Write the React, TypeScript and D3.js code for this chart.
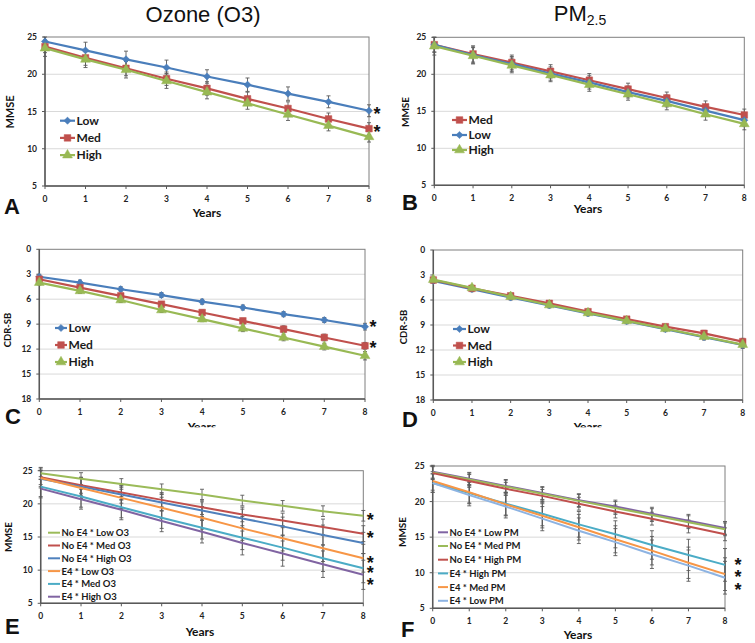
import React from 'react';
import * as d3 from 'd3';

// ---------- shared ----------
const years = [0, 1, 2, 3, 4, 5, 6, 7, 8];
const mmseTicks = [5, 10, 15, 20, 25];
const cdrTicks = [0, 3, 6, 9, 12, 15, 18];

// ---------- Panel A : Ozone, MMSE ----------
const aNames = ['Low', 'Med', 'High'];
const aLow = [24.4, 23.2, 22.0, 20.9, 19.7, 18.6, 17.4, 16.3, 15.1];
const aMed = [23.7, 22.2, 20.8, 19.4, 18.1, 16.7, 15.4, 14.0, 12.7];
const aHigh = [23.5, 22.0, 20.6, 19.1, 17.6, 16.1, 14.6, 13.1, 11.6];
const aLowErr = [0.6, 1.1, 1.1, 1.0, 0.9, 0.9, 0.9, 0.8, 0.8];
const aMedErr = [0.8, 1.0, 1.0, 0.9, 0.9, 0.9, 0.9, 0.8, 0.8];
const aHighErr = [1.1, 1.1, 1.1, 1.0, 0.9, 0.8, 0.8, 0.7, 0.7];
const aStars = [15.1, 12.7];

// ---------- Panel B : PM2.5, MMSE ----------
const bNames = ['Med', 'Low', 'High'];
const bMed = [24.0, 22.75, 21.6, 20.4, 19.2, 18.0, 16.8, 15.6, 14.5];
const bLow = [24.0, 22.6, 21.4, 20.1, 18.9, 17.6, 16.4, 15.1, 13.8];
const bHigh = [23.8, 22.5, 21.2, 19.9, 18.6, 17.3, 16.0, 14.6, 13.3];
const bMedErr = [1.0, 1.1, 1.0, 0.9, 0.9, 0.8, 0.8, 0.8, 0.8];
const bLowErr = [1.0, 1.1, 1.0, 0.9, 0.9, 0.8, 0.8, 0.8, 0.8];
const bHighErr = [1.2, 1.1, 1.0, 0.9, 0.9, 0.8, 0.8, 0.8, 0.8];

// ---------- Panel C : Ozone, CDR-SB ----------
const cNames = ['Low', 'Med', 'High'];
const cLow = [3.3, 4.0, 4.8, 5.5, 6.3, 7.0, 7.8, 8.5, 9.3];
const cMed = [3.6, 4.6, 5.6, 6.6, 7.6, 8.6, 9.6, 10.6, 11.6];
const cHigh = [4.0, 5.0, 6.1, 7.3, 8.4, 9.5, 10.6, 11.7, 12.8];
const cLowErr = [0.3, 0.3, 0.3, 0.3, 0.3, 0.3, 0.3, 0.3, 0.4];
const cMedErr = [0.3, 0.3, 0.3, 0.3, 0.3, 0.3, 0.4, 0.4, 0.4];
const cHighErr = [0.3, 0.3, 0.3, 0.3, 0.3, 0.4, 0.4, 0.4, 0.5];
const cStars = [8.8, 11.3];

// ---------- Panel D : PM2.5, CDR-SB ----------
const dNames = ['Low', 'Med', 'High'];
const dLow = [3.7, 4.7, 5.7, 6.65, 7.6, 8.55, 9.5, 10.45, 11.4];
const dMed = [3.6, 4.6, 5.5, 6.4, 7.4, 8.3, 9.2, 10.0, 11.0];
const dHigh = [3.55, 4.55, 5.6, 6.6, 7.55, 8.5, 9.45, 10.4, 11.35];
const dErr = [0.3, 0.3, 0.3, 0.3, 0.3, 0.3, 0.3, 0.35, 0.4];

// ---------- Panel E : APOE4 x Ozone, MMSE ----------
const eNames = ['No E4 * Low O3', 'No E4 * Med O3', 'No E4 * High O3', 'E4 * Low O3', 'E4 * Med O3', 'E4 * High O3'];
const eNoLow = [24.6, 23.8, 23.0, 22.2, 21.4, 20.5, 19.7, 18.9, 18.2];
const eNoMed = [24.0, 22.8, 21.7, 20.6, 19.5, 18.4, 17.5, 16.5, 15.5];
const eNoHigh = [23.8, 22.6, 21.4, 20.2, 19.0, 17.8, 16.6, 15.3, 14.1];
const eE4Low = [23.9, 22.4, 20.9, 19.4, 17.9, 16.3, 14.8, 13.3, 11.8];
const eE4Med = [22.6, 21.1, 19.5, 17.9, 16.4, 14.9, 13.4, 11.8, 10.3];
const eE4High = [22.3, 20.7, 19.1, 17.4, 15.8, 14.1, 12.5, 10.9, 9.3];
const eNoLowErr = [0.9, 0.9, 0.8, 0.8, 0.8, 0.8, 0.8, 0.8, 0.8];
const eNoMedErr = [1.1, 1.2, 1.1, 1.1, 1.1, 1.1, 1.1, 1.2, 1.2];
const eNoHighErr = [1.2, 1.3, 1.3, 1.3, 1.3, 1.4, 1.4, 1.5, 1.6];
const eE4LowErr = [1.5, 1.6, 1.6, 1.6, 1.7, 1.8, 1.9, 2.0, 2.1];
const eE4MedErr = [1.5, 1.6, 1.6, 1.6, 1.7, 1.8, 1.9, 2.0, 2.2];
const eE4HighErr = [1.4, 1.5, 1.5, 1.6, 1.7, 1.8, 1.9, 2.0, 2.2];
const eStars = [18.2, 15.5, 11.8, 10.3, 8.4];

// ---------- Panel F : APOE4 x PM2.5, MMSE ----------
const fNames = ['No E4 * Low PM', 'No E4 * Med PM', 'No E4 * High PM', 'E4 * High PM', 'E4 * Med PM', 'E4 * Low PM'];
const fNoLow = [24.2, 23.2, 22.2, 21.2, 20.2, 19.3, 18.3, 17.3, 16.3];
const fNoMed = [24.1, 23.1, 22.1, 21.1, 20.1, 19.1, 18.1, 17.1, 16.1];
const fNoHigh = [24.0, 22.9, 21.8, 20.8, 19.7, 18.6, 17.6, 16.5, 15.4];
const fE4High = [22.6, 21.2, 19.7, 18.3, 16.8, 15.4, 13.9, 12.5, 11.1];
const fE4Med = [22.9, 21.3, 19.6, 18.0, 16.4, 14.7, 13.1, 11.4, 9.8];
const fE4Low = [22.6, 20.9, 19.3, 17.6, 15.9, 14.3, 12.6, 11.0, 9.3];
const fNoErr = [0.9, 0.9, 0.9, 0.9, 0.9, 0.9, 0.9, 0.9, 0.9];
const fE4Err = [1.3, 1.5, 1.6, 1.7, 1.8, 1.9, 2.0, 2.2, 2.3];
const fStars = [11.66, 9.97, 8.15];

// ---------- styling ----------
const C_BLUE = '#4a7ebb';
const C_RED = '#c0504d';
const C_GREEN = '#98b954';
const X_BLUE = '#4f81bd';
const X_ORANGE = '#f79646';
const X_TEAL = '#4bacc6';
const X_PURPLE = '#8064a2';
const X_LBLUE = '#8db3e2';
const X_GREEN = '#9bbb59';
const AXIS = '#595959';
const GRID = '#d9d9d9';
const ERR = '#5a5a5a';
const FONT = 'Lato, "Open Sans", sans-serif';
const ARIAL = '"Liberation Sans", Arial, sans-serif';
const STAR_FS = 18;

type Marker = 'diamond' | 'square' | 'triangle' | 'none';
type Series = { name: string; color: string; values: number[]; errors: number[]; marker: Marker };

type PanelCfg = {
  id: string;
  left: number; right: number; top: number; bottom: number;
  domain: [number, number];
  ticks: number[];
  reversed: boolean;
  series: Series[];
  lineWidth: number;
  legend: { x: number; y: number; dy: number; len: number; fs: number };
  stars: number[];
  starDx: number;
  starDy: number;
  letter: { t: string; x: number; y: number };
  yTitle: { t: string; x: number; y: number; fs: number };
  xTitle: { x: number; y: number; clip?: number };
};

const sym = (m: Marker) => {
  if (m === 'diamond') return d3.symbol().type(d3.symbolSquare).size(26)();
  if (m === 'square') return d3.symbol().type(d3.symbolSquare).size(44)();
  if (m === 'triangle') return d3.symbol().type(d3.symbolTriangle).size(42)();
  return '';
};

const MarkerShape = ({ m, x, y, color }: { m: Marker; x: number; y: number; color: string }) => {
  if (m === 'none') return null;
  const rot = m === 'diamond' ? ' rotate(45)' : '';
  return <path d={sym(m) || ''} transform={`translate(${x},${y})${rot}`} fill={color} stroke={color} strokeWidth={0.5} />;
};

const Panel = ({ cfg }: { cfg: PanelCfg }) => {
  const x = d3.scaleLinear().domain([0, 8]).range([cfg.left, cfg.right]);
  const y = d3.scaleLinear().domain(cfg.domain).range(cfg.reversed ? [cfg.top, cfg.bottom] : [cfg.bottom, cfg.top]);
  const line = d3.line<number>().x((_, i) => x(years[i])).y((v) => y(v));
  const gridTicks = cfg.ticks.filter((t) => Math.abs(y(t) - cfg.bottom) > 1 && Math.abs(y(t) - cfg.top) > 1);
  const clipId = `clip-${cfg.id}`;
  return (
    <g>
      {gridTicks.map((t) => (
        <line key={t} x1={cfg.left} x2={cfg.right} y1={y(t)} y2={y(t)} stroke={GRID} strokeWidth={1} />
      ))}
      <rect x={cfg.left} y={cfg.top} width={cfg.right - cfg.left} height={cfg.bottom - cfg.top} fill="none" stroke="#7f7f7f" strokeWidth={1} />
      <line x1={cfg.left} x2={cfg.left} y1={cfg.top} y2={cfg.bottom} stroke={AXIS} strokeWidth={1.5} />
      <line x1={cfg.left} x2={cfg.right} y1={cfg.bottom} y2={cfg.bottom} stroke={AXIS} strokeWidth={1.5} />
      {cfg.ticks.map((t) => (
        <g key={t}>
          <line x1={cfg.left - 3} x2={cfg.left} y1={y(t)} y2={y(t)} stroke={AXIS} />
          <text x={cfg.left - 8} y={y(t) + 3} textAnchor="end" fontFamily={FONT} fontWeight="bold" fontSize={8.5} fill="#222">{t}</text>
        </g>
      ))}
      {years.map((yr) => (
        <g key={yr}>
          <line x1={x(yr)} x2={x(yr)} y1={cfg.bottom} y2={cfg.bottom + 3} stroke={AXIS} />
          <text x={x(yr)} y={cfg.bottom + 16} textAnchor="middle" fontFamily={FONT} fontWeight="bold" fontSize={8.5} fill="#222">{yr}</text>
        </g>
      ))}
      {cfg.series.map((s) => (
        <g key={s.name + 'err'}>
          {s.values.map((v, i) => (
            <g key={i} stroke={ERR} strokeWidth={0.9}>
              <line x1={x(years[i])} x2={x(years[i])} y1={y(v - s.errors[i])} y2={y(v + s.errors[i])} />
              <line x1={x(years[i]) - 2} x2={x(years[i]) + 2} y1={y(v - s.errors[i])} y2={y(v - s.errors[i])} />
              <line x1={x(years[i]) - 2} x2={x(years[i]) + 2} y1={y(v + s.errors[i])} y2={y(v + s.errors[i])} />
            </g>
          ))}
        </g>
      ))}
      {cfg.series.map((s) => (
        <g key={s.name}>
          <path d={line(s.values) || ''} fill="none" stroke={s.color} strokeWidth={cfg.lineWidth} />
          {s.values.map((v, i) => (
            <MarkerShape key={i} m={s.marker} x={x(years[i])} y={y(v)} color={s.color} />
          ))}
        </g>
      ))}
      {cfg.series.map((s, i) => {
        const ly = cfg.legend.y + i * cfg.legend.dy;
        const lx = cfg.legend.x;
        return (
          <g key={s.name + 'leg'}>
            <line x1={lx} x2={lx + cfg.legend.len} y1={ly} y2={ly} stroke={s.color} strokeWidth={cfg.lineWidth} />
            <MarkerShape m={s.marker} x={lx + cfg.legend.len / 2} y={ly} color={s.color} />
            <text x={lx + cfg.legend.len + 1.5} y={ly + cfg.legend.fs * 0.36} fontFamily={FONT} fontWeight="bold" fontSize={cfg.legend.fs} fill="#1a1a1a">{s.name}</text>
          </g>
        );
      })}
      {cfg.stars.length > 0 && (
        <text textAnchor="middle" fontFamily={ARIAL} fontWeight="bold" fontSize={STAR_FS} fill="#111">
          {cfg.stars.map((v, i) => (
            <tspan key={i} x={cfg.right + cfg.starDx} y={y(v) + cfg.starDy + STAR_FS * 0.58}>*</tspan>
          ))}
        </text>
      )}
      <text transform={`translate(${cfg.yTitle.x},${cfg.yTitle.y}) rotate(-90)`} textAnchor="middle" fontFamily={FONT} fontWeight="bold" fontSize={cfg.yTitle.fs} fill="#111">{cfg.yTitle.t}</text>
      {cfg.xTitle.clip !== undefined && (
        <defs>
          <clipPath id={clipId}>
            <rect x={cfg.xTitle.x - 40} y={cfg.xTitle.y - 20} width={80} height={cfg.xTitle.clip - (cfg.xTitle.y - 20)} />
          </clipPath>
        </defs>
      )}
      <text x={cfg.xTitle.x} y={cfg.xTitle.y} textAnchor="middle" fontFamily={FONT} fontWeight="bold" fontSize={12} fill="#111" clipPath={cfg.xTitle.clip !== undefined ? `url(#${clipId})` : undefined}>Years</text>
      <text x={cfg.letter.x} y={cfg.letter.y} fontFamily={ARIAL} fontWeight="bold" fontSize={22} fill="#111">{cfg.letter.t}</text>
    </g>
  );
};

const panels: PanelCfg[] = [
  {
    id: 'A', left: 45, right: 369, top: 37, bottom: 186, domain: [5, 25], ticks: mmseTicks, reversed: false,
    series: [
      { name: aNames[0], color: C_BLUE, values: aLow, errors: aLowErr, marker: 'diamond' },
      { name: aNames[1], color: C_RED, values: aMed, errors: aMedErr, marker: 'square' },
      { name: aNames[2], color: C_GREEN, values: aHigh, errors: aHighErr, marker: 'triangle' },
    ],
    lineWidth: 2.2,
    legend: { x: 60, y: 120.7, dy: 17.2, len: 15, fs: 12 },
    stars: aStars, starDx: 8, starDy: -1,
    letter: { t: 'A', x: 4, y: 214 },
    yTitle: { t: 'MMSE', x: 14, y: 112, fs: 11 },
    xTitle: { x: 207, y: 217 },
  },
  {
    id: 'B', left: 434.3, right: 744.3, top: 37.3, bottom: 185.3, domain: [5, 25], ticks: mmseTicks, reversed: false,
    series: [
      { name: bNames[0], color: C_RED, values: bMed, errors: bMedErr, marker: 'square' },
      { name: bNames[1], color: C_BLUE, values: bLow, errors: bLowErr, marker: 'diamond' },
      { name: bNames[2], color: C_GREEN, values: bHigh, errors: bHighErr, marker: 'triangle' },
    ],
    lineWidth: 2.2,
    legend: { x: 452, y: 120, dy: 15, len: 15, fs: 12 },
    stars: [], starDx: 8, starDy: 0,
    letter: { t: 'B', x: 402, y: 210 },
    yTitle: { t: 'MMSE', x: 409, y: 112, fs: 10 },
    xTitle: { x: 588, y: 213 },
  },
  {
    id: 'C', left: 39.3, right: 365, top: 249.3, bottom: 399, domain: [0, 18], ticks: cdrTicks, reversed: true,
    series: [
      { name: cNames[0], color: C_BLUE, values: cLow, errors: cLowErr, marker: 'diamond' },
      { name: cNames[1], color: C_RED, values: cMed, errors: cMedErr, marker: 'square' },
      { name: cNames[2], color: C_GREEN, values: cHigh, errors: cHighErr, marker: 'triangle' },
    ],
    lineWidth: 2.2,
    legend: { x: 55, y: 328, dy: 17, len: 12, fs: 12 },
    stars: cStars, starDx: 8, starDy: 0,
    letter: { t: 'C', x: 5, y: 424 },
    yTitle: { t: 'CDR-SB', x: 11, y: 330, fs: 9.5 },
    xTitle: { x: 202, y: 430.5, clip: 427.3 },
  },
  {
    id: 'D', left: 433.3, right: 742.7, top: 250, bottom: 400, domain: [0, 18], ticks: cdrTicks, reversed: true,
    series: [
      { name: dNames[0], color: C_BLUE, values: dLow, errors: dErr, marker: 'diamond' },
      { name: dNames[1], color: C_RED, values: dMed, errors: dErr, marker: 'square' },
      { name: dNames[2], color: C_GREEN, values: dHigh, errors: dErr, marker: 'triangle' },
    ],
    lineWidth: 2.2,
    legend: { x: 453, y: 329, dy: 16.5, len: 13, fs: 12 },
    stars: [], starDx: 8, starDy: 0,
    letter: { t: 'D', x: 402, y: 427 },
    yTitle: { t: 'CDR-SB', x: 407, y: 327, fs: 9.5 },
    xTitle: { x: 588, y: 430.5, clip: 427.3 },
  },
  {
    id: 'E', left: 40.7, right: 363.3, top: 470.7, bottom: 603.3, domain: [5, 25], ticks: mmseTicks, reversed: false,
    series: [
      { name: eNames[0], color: X_GREEN, values: eNoLow, errors: eNoLowErr, marker: 'none' },
      { name: eNames[1], color: C_RED, values: eNoMed, errors: eNoMedErr, marker: 'none' },
      { name: eNames[2], color: X_BLUE, values: eNoHigh, errors: eNoHighErr, marker: 'none' },
      { name: eNames[3], color: X_ORANGE, values: eE4Low, errors: eE4LowErr, marker: 'none' },
      { name: eNames[4], color: X_TEAL, values: eE4Med, errors: eE4MedErr, marker: 'none' },
      { name: eNames[5], color: X_PURPLE, values: eE4High, errors: eE4HighErr, marker: 'none' },
    ],
    lineWidth: 2,
    legend: { x: 48, y: 532.7, dy: 12.8, len: 12, fs: 9.5 },
    stars: eStars, starDx: 7, starDy: 0,
    letter: { t: 'E', x: 5, y: 634 },
    yTitle: { t: 'MMSE', x: 12, y: 537, fs: 10 },
    xTitle: { x: 200, y: 636 },
  },
  {
    id: 'F', left: 432.7, right: 725, top: 466, bottom: 608.3, domain: [5, 25], ticks: mmseTicks, reversed: false,
    series: [
      { name: fNames[0], color: X_PURPLE, values: fNoLow, errors: fNoErr, marker: 'none' },
      { name: fNames[1], color: X_GREEN, values: fNoMed, errors: fNoErr, marker: 'none' },
      { name: fNames[2], color: C_RED, values: fNoHigh, errors: fNoErr, marker: 'none' },
      { name: fNames[3], color: X_TEAL, values: fE4High, errors: fE4Err, marker: 'none' },
      { name: fNames[4], color: X_ORANGE, values: fE4Med, errors: fE4Err, marker: 'none' },
      { name: fNames[5], color: X_LBLUE, values: fE4Low, errors: fE4Err, marker: 'none' },
    ],
    lineWidth: 2,
    legend: { x: 438, y: 532.3, dy: 13.7, len: 10, fs: 9.5 },
    stars: fStars, starDx: 13, starDy: 0,
    letter: { t: 'F', x: 401, y: 637 },
    yTitle: { t: 'MMSE', x: 406, y: 532, fs: 10 },
    xTitle: { x: 578, y: 639 },
  },
];

export default function App() {
  return (
    <svg width={755} height={643} style={{ position: 'absolute', left: 0, top: 0, background: '#fff' }}>
      <rect x={0} y={0} width={755} height={643} fill="#fff" />
      <text x={203} y={22} textAnchor="middle" fontFamily={ARIAL} fontSize={22} fill="#111">Ozone (O3)</text>
      <text x={580} y={21} textAnchor="middle" fontFamily={ARIAL} fontSize={22} fill="#111">
        PM<tspan fontSize={14} dy={4}>2.5</tspan>
      </text>
      {panels.map((p) => (
        <Panel key={p.id} cfg={p} />
      ))}
    </svg>
  );
}
